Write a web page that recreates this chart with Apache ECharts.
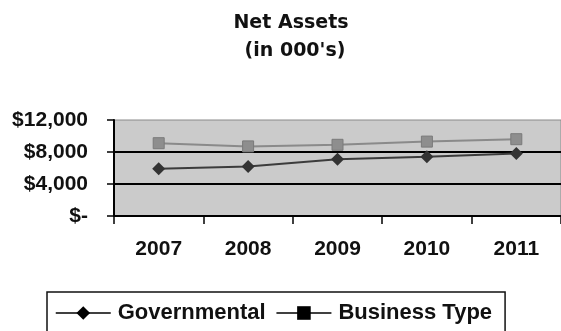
<!DOCTYPE html>
<html>
<head>
<meta charset="utf-8">
<script src="https://cdn.jsdelivr.net/npm/echarts@6/dist/echarts.min.js"></script>
<style>
  html, body { margin: 0; padding: 0; background: #fff; }
  #chart { width: 561px; height: 331px; }
</style>
</head>
<body>
<div id="chart"></div>
<script>
// Net assets by fund type, in thousands of dollars
const years = ['2007', '2008', '2009', '2010', '2011'];
const governmental = [5900, 6200, 7100, 7400, 7800];
const businessType = [9100, 8700, 8900, 9300, 9600];
const yTicks = { 0: '$-', 4000: '$4,000', 8000: '$8,000', 12000: '$12,000' };

const FONT = '"Liberation Sans", Arial, sans-serif';
const TITLE_FONT = '"DejaVu Sans", sans-serif';

const chart = echarts.init(document.getElementById('chart'), null, { renderer: 'canvas' });
chart.setOption({
  animation: false,
  backgroundColor: '#ffffff',
  title: [
    {
      text: 'Net Assets', left: 286, top: 9, textAlign: 'center',
      textStyle: { fontFamily: TITLE_FONT, fontSize: 19, fontWeight: 'bold', color: '#111' }
    },
    {
      text: "(in 000's)", left: 290, top: 37, textAlign: 'center',
      textStyle: { fontFamily: TITLE_FONT, fontSize: 19, fontWeight: 'bold', color: '#111' }
    }
  ],
  grid: {
    left: 114, top: 120, bottom: 115, right: -6,
    show: true, backgroundColor: '#cbcbcb', borderColor: '#8a8a8a', borderWidth: 1
  },
  legend: {
    left: 47, top: 292,
    padding: [10, 13, 30, 8],
    itemWidth: 55, itemHeight: 17, itemGap: 10,
    borderColor: '#111', borderWidth: 1.5,
    textStyle: { fontFamily: FONT, fontSize: 22, fontWeight: 'bold', color: '#111', padding: [0, 0, 0, 2] },
    data: [
      { name: 'Governmental', itemStyle: { color: '#000', borderWidth: 0 }, lineStyle: { color: '#000', width: 1.5 } },
      { name: 'Business Type', itemStyle: { color: '#000', borderWidth: 0 }, lineStyle: { color: '#000', width: 1.5 } }
    ]
  },
  xAxis: {
    type: 'category',
    data: years,
    boundaryGap: true,
    axisLine: { lineStyle: { color: '#000', width: 2 } },
    axisTick: { show: true, length: 8, lineStyle: { color: '#000', width: 1.5 } },
    axisLabel: { margin: 23, fontFamily: FONT, fontSize: 21, fontWeight: 'bold', color: '#111' },
    splitLine: { show: false }
  },
  yAxis: {
    type: 'value',
    min: 0, max: 12000, interval: 4000,
    axisLine: { show: true, lineStyle: { color: '#000', width: 2 } },
    axisTick: { show: true, length: 7, lineStyle: { color: '#000', width: 1.5 } },
    axisLabel: {
      margin: 26, fontFamily: FONT, fontSize: 21, fontWeight: 'bold', color: '#111',
      formatter: v => yTicks[v]
    },
    splitLine: { show: true, showMaxLine: false, lineStyle: { color: '#000', width: 2 } }
  },
  series: [
    {
      name: 'Governmental', type: 'line', data: governmental,
      symbol: 'diamond', symbolSize: 13,
      lineStyle: { color: '#3c3c3c', width: 2 },
      itemStyle: { color: '#333333' }
    },
    {
      name: 'Business Type', type: 'line', data: businessType,
      symbol: 'rect', symbolSize: 11,
      lineStyle: { color: '#8a8a8a', width: 2 },
      itemStyle: { color: '#8e8e8e', borderColor: '#7a7a7a', borderWidth: 1 }
    }
  ]
});
</script>
</body>
</html>
